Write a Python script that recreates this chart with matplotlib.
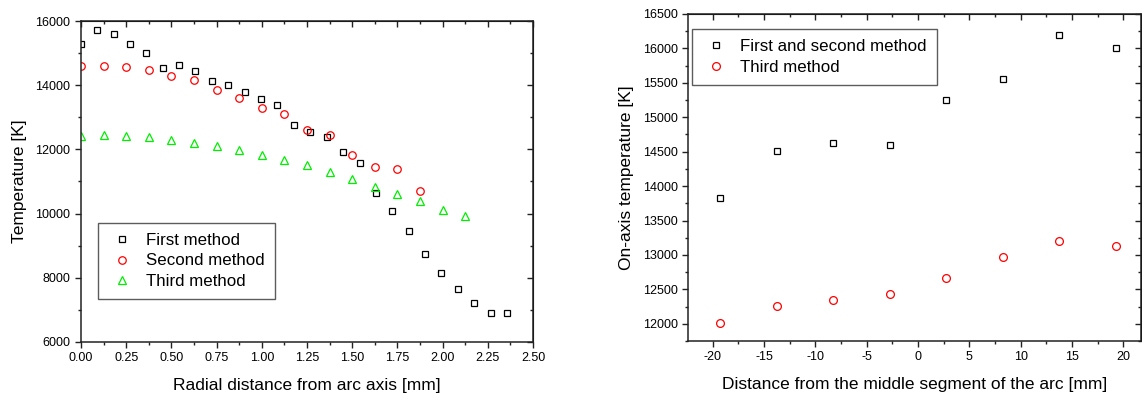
import numpy as np
import matplotlib.pyplot as plt
from matplotlib.ticker import MultipleLocator, NullFormatter

plt.rcParams['font.family'] = ['Liberation Sans', 'DejaVu Sans']
plt.rcParams['axes.unicode_minus'] = False

# left panel: radial profiles
r_first = [0.0, 0.089, 0.18, 0.272, 0.361, 0.452, 0.543, 0.633, 0.724, 0.815,
           0.906, 0.996, 1.085, 1.176, 1.268, 1.359, 1.45, 1.541, 1.631, 1.722,
           1.813, 1.904, 1.994, 2.085, 2.176, 2.267, 2.357]
t_first = [15280, 15730, 15600, 15270, 15010, 14550, 14620, 14450, 14130, 14010,
           13780, 13560, 13390, 12770, 12550, 12380, 11920, 11590, 10650, 10090,
           9460, 8750, 8150, 7640, 7215, 6895, 6905]
r_second = [0.0, 0.125, 0.25, 0.375, 0.5, 0.625, 0.75, 0.875, 1.0, 1.125,
            1.25, 1.375, 1.5, 1.625, 1.75, 1.875]
t_second = [14590, 14610, 14560, 14470, 14300, 14150, 13850, 13610, 13290, 13100,
            12600, 12440, 11840, 11450, 11390, 10700]
r_third = [0.0, 0.125, 0.25, 0.375, 0.5, 0.625, 0.75, 0.875, 1.0, 1.125,
           1.25, 1.375, 1.5, 1.625, 1.75, 1.875, 2.0, 2.125]
t_third = [12430, 12440, 12420, 12380, 12290, 12210, 12110, 11980, 11840, 11670,
           11505, 11300, 11080, 10840, 10610, 10400, 10110, 9930]

# right panel: on-axis temperature along the arc
z_pos = [-19.25, -13.75, -8.25, -2.75, 2.75, 8.25, 13.75, 19.25]
t_axis_12 = [13830, 14510, 14630, 14600, 15255, 15560, 16200, 16010]
t_axis_3 = [12015, 12255, 12345, 12430, 12670, 12965, 13200, 13135]

fig = plt.figure(figsize=(11.42, 3.94), dpi=100)
ax1 = fig.add_axes([0.0709, 0.132, 0.3958, 0.8147])
ax2 = fig.add_axes([0.6025, 0.1345, 0.3965, 0.830])

mk = dict(linestyle='none', fillstyle='none', markeredgewidth=0.9)
ax1.plot(r_first, t_first, 's', color='black', markersize=4.6, label='First method', **mk)
ax1.plot(r_second, t_second, 'o', color='#ff0000', markersize=5.4, label='Second method', **mk)
ax1.plot(r_third, t_third, '^', color='#00ee00', markersize=5.8, label='Third method', **mk)
ax1.set_xlim(0, 2.5)
ax1.set_ylim(6000, 16000)
ax1.set_xlabel('Radial distance from arc axis [mm]', fontsize=12.5, labelpad=10)
ax1.set_ylabel('Temperature [K]', fontsize=12.5, labelpad=6)
ax1.xaxis.set_major_locator(MultipleLocator(0.25))
ax1.xaxis.set_minor_locator(MultipleLocator(0.125))
ax1.xaxis.set_major_formatter(plt.FormatStrFormatter('%.2f'))
ax1.yaxis.set_major_locator(MultipleLocator(2000))
ax1.yaxis.set_minor_locator(MultipleLocator(1000))

ax2.plot(z_pos, t_axis_12, 's', color='black', markersize=4.6,
         label='First and second method', **mk)
ax2.plot(z_pos, t_axis_3, 'o', color='#ff0000', markersize=5.6, label='Third method', **mk)
ax2.set_xlim(-22.4, 21.7)
ax2.set_ylim(11750, 16500)
ax2.set_xlabel('Distance from the middle segment of the arc [mm]', fontsize=12.5, labelpad=10)
ax2.set_ylabel('On-axis temperature [K]', fontsize=12.5, labelpad=6)
ax2.xaxis.set_major_locator(MultipleLocator(5))
ax2.xaxis.set_minor_locator(MultipleLocator(2.5))
ax2.yaxis.set_major_locator(MultipleLocator(500))
ax2.yaxis.set_minor_locator(MultipleLocator(250))

leg_style = dict(loc='upper left', fontsize=12.2, frameon=True, fancybox=False,
                 edgecolor='#333333', handlelength=1.6, handletextpad=0.62,
                 labelspacing=0.32, borderpad=0.6, borderaxespad=0)
leg1 = ax1.legend(bbox_to_anchor=(0.0376, 0.371), **leg_style)
leg2 = ax2.legend(bbox_to_anchor=(0.009, 0.954), **leg_style)
for leg in (leg1, leg2):
    leg.get_frame().set_linewidth(1.0)

for ax in (ax1, ax2):
    for sp in ax.spines.values():
        sp.set_linewidth(1.1)
        sp.set_color('#222222')
    ax.tick_params(which='both', direction='out', labelsize=9, width=1.0, color='#222222')
    ax.tick_params(which='major', length=4)
    ax.tick_params(which='minor', length=2.5)
    # mirrored ticks on top and right point inward
    top = ax.secondary_xaxis('top')
    top.xaxis.set_major_locator(ax.xaxis.get_major_locator())
    top.xaxis.set_minor_locator(ax.xaxis.get_minor_locator())
    top.xaxis.set_major_formatter(NullFormatter())
    top.tick_params(which='both', direction='in', width=1.0, color='#222222')
    top.tick_params(which='major', length=4)
    top.tick_params(which='minor', length=2.5)
    right = ax.secondary_yaxis('right')
    right.yaxis.set_major_locator(ax.yaxis.get_major_locator())
    right.yaxis.set_minor_locator(ax.yaxis.get_minor_locator())
    right.yaxis.set_major_formatter(NullFormatter())
    right.tick_params(which='both', direction='in', width=1.0, color='#222222')
    right.tick_params(which='major', length=4)
    right.tick_params(which='minor', length=2.5)

fig.savefig('out.png', dpi=100)
